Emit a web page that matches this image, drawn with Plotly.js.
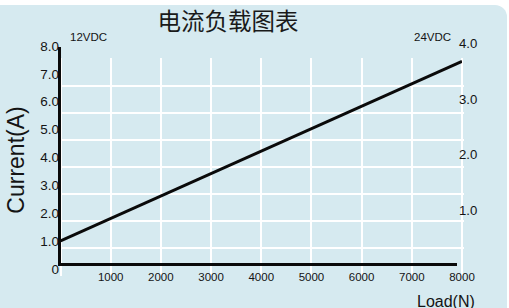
<!DOCTYPE html>
<html>
<head>
<meta charset="utf-8">
<script src="https://cdn.plot.ly/plotly-3.0.1.min.js"></script>
<style>
  html, body { margin: 0; padding: 0; background: #ffffff; }
  #wrap { position: relative; width: 509px; height: 308px; overflow: hidden; }
  #bg { position: absolute; left: 0; top: 5px; width: 507px; height: 303px;
        background: #d6eaf0; border-top-right-radius: 12px; }
  #chart { position: absolute; left: 0; top: 0; width: 509px; height: 308px; }
</style>
</head>
<body>
<div id="wrap"><div id="bg"></div><div id="chart"></div></div>
<script>
// ---- data ----
const loadN = [0, 8000];
const current12V = [1.0, 7.45];

const xTickVals = [1000, 2000, 3000, 4000, 5000, 6000, 7000, 8000];
const xTickText = ["1000", "2000", "3000", "4000", "5000", "6000", "7000", "8000"];
const leftTickVals = [0, 1, 2, 3, 4, 5, 6, 7, 8];
const leftTickText = ["0", "1.0", "2.0", "3.0", "4.0", "5.0", "6.0", "7.0", "8.0"];
const rightTickVals = [1, 2, 3, 4];
const rightTickText = ["1.0", "2.0", "3.0", "4.0"];

const chartTitle = "电流负载图表";
const yTitle = "Current(A)";
const xTitle = "Load(N)";
const leftLabel = "12VDC";
const rightLabel = "24VDC";

// ---- layout helpers (pixel -> paper fraction) ----
const W = 509, H = 308;
const M = { l: 59, r: 45, t: 40, b: 28 };
const PW = W - M.l - M.r, PH = H - M.t - M.b;
const fx = px => (px - M.l) / PW;
const fy = py => (H - M.b - py) / PH;

const txtFont = "Liberation Sans, Arial, sans-serif";
const ink = "#141414";

const hidden = { showgrid: false, zeroline: false, showline: false, ticks: "", showticklabels: false, fixedrange: true };

const layout = {
  width: W, height: H,
  margin: M,
  paper_bgcolor: "rgba(0,0,0,0)",
  plot_bgcolor: "rgba(0,0,0,0)",
  showlegend: false,
  title: {
    text: chartTitle,
    font: { family: "Noto Sans CJK SC, sans-serif", size: 23.5, color: "#1a1a1a" },
    x: 228 / W, xanchor: "center", xref: "container",
    y: 1 - 22 / H, yanchor: "middle", yref: "container"
  },
  // grid subplot
  xaxis: Object.assign({}, hidden, {
    domain: [0, 1], anchor: "y",
    range: [-1.5 * 8000 / 401.5, 403.5 * 8000 / 401.5],
    tickmode: "linear", tick0: 0, dtick: 1000,
    showgrid: true, gridcolor: "#ffffff", gridwidth: 2
  }),
  yaxis: Object.assign({}, hidden, {
    domain: [fy(276), fy(58.3)], anchor: "x",
    range: [-1 / 26.96, 8 + 1 / 26.96],
    tickmode: "linear", tick0: 0, dtick: 1,
    showgrid: true, gridcolor: "#ffffff", gridwidth: 2
  }),
  // data subplot
  xaxis2: Object.assign({}, hidden, {
    domain: [fx(60.5), fx(462)], anchor: "free", position: 0.05,
    range: [0, 8000],
    tickmode: "array", tickvals: xTickVals, ticktext: xTickText,
    showticklabels: true,
    tickfont: { family: txtFont, size: 11.5, color: ink }
  }),
  yaxis2: Object.assign({}, hidden, {
    domain: [0, 1], anchor: "free", position: 0, side: "left",
    range: [8 - 234 / 27.85, 8 + 6 / 27.85],
    tickmode: "array", tickvals: leftTickVals, ticktext: leftTickText,
    showticklabels: true,
    tickfont: { family: txtFont, size: 13.5, color: ink },
    title: { text: yTitle, font: { family: txtFont, size: 23, color: ink }, standoff: 8 }
  }),
  yaxis4: Object.assign({}, hidden, {
    overlaying: "y2", side: "right", anchor: "x2",
    range: [4 - 236.7 / 55.7, 4 + 3.3 / 55.7],
    tickmode: "array", tickvals: rightTickVals, ticktext: rightTickText,
    showticklabels: true, ticklabelstandoff: -4,
    tickfont: { family: txtFont, size: 13.2, color: ink }
  }),
  // black axis lines
  xaxis3: Object.assign({}, hidden, {
    domain: [fx(60.8), fx(457)], anchor: "y3", range: [0, 1],
    showline: true, linecolor: "#0a0a0a", linewidth: 3
  }),
  yaxis3: Object.assign({}, hidden, {
    domain: [fy(263), fy(46.7)], anchor: "x3", range: [0, 1],
    showline: true, linecolor: "#0a0a0a", linewidth: 3
  }),
  annotations: [
    { text: leftLabel, xref: "paper", yref: "paper", x: fx(88), y: fy(37.5),
      xanchor: "center", yanchor: "middle", showarrow: false,
      font: { family: txtFont, size: 11.5, color: ink } },
    { text: rightLabel, xref: "paper", yref: "paper", x: fx(432), y: fy(37.5),
      xanchor: "center", yanchor: "middle", showarrow: false,
      font: { family: txtFont, size: 11.5, color: ink } },
    { text: xTitle, xref: "paper", yref: "paper", x: fx(446), y: fy(301.5),
      xanchor: "center", yanchor: "middle", showarrow: false,
      font: { family: txtFont, size: 16, color: ink } }
  ]
};

// empty carrier traces so the grid, axis-line and right-label subplots are created
const emptyX = [], emptyY = [];
const traces = [
  { type: "scatter", mode: "lines", x: emptyX, y: emptyY, xaxis: "x", yaxis: "y", hoverinfo: "skip", showlegend: false },
  {
    type: "scatter", mode: "lines",
    x: loadN, y: current12V,
    xaxis: "x2", yaxis: "y2",
    line: { color: "#0a0a0a", width: 3 },
    hoverinfo: "skip", name: "12VDC"
  },
  { type: "scatter", mode: "lines", x: emptyX, y: emptyY, xaxis: "x2", yaxis: "y4", hoverinfo: "skip", showlegend: false },
  { type: "scatter", mode: "lines", x: emptyX, y: emptyY, xaxis: "x3", yaxis: "y3", hoverinfo: "skip", showlegend: false }
];

Plotly.newPlot("chart", traces, layout, { staticPlot: true, displayModeBar: false });
</script>
</body>
</html>
